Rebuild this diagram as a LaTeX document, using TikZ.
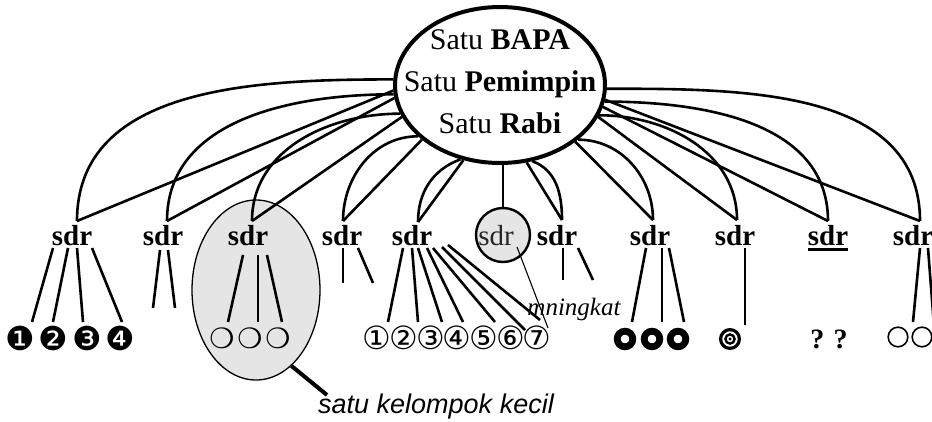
\documentclass[tikz,border=0pt]{standalone}
\usepackage{fontspec}
\setmainfont{Liberation Serif}
\setsansfont{Liberation Sans}
\newfontfamily\symf{DejaVu Sans}
\usetikzlibrary{shapes.geometric}
\begin{document}
\begin{tikzpicture}[x=1pt,y=-1pt,
  conn/.style={line width=2.6pt},
  thinconn/.style={line width=1.1pt},
  sdrb/.style={font=\fontsize{29}{30}\selectfont\bfseries, inner sep=0pt, anchor=base},
  symA/.style={font=\symf\fontsize{33}{33}\selectfont, inner sep=0pt},
  symC/.style={font=\symf\fontsize{32}{32}\selectfont, inner sep=0pt},
  symB/.style={font=\symf\fontsize{28}{28}\selectfont, inner sep=0pt},
  ring/.style={line width=6.8pt},
  ]
\useasboundingbox (0,0) rectangle (932,421);
\fill[white] (0,0) rectangle (932,421);
% group ellipse
\node[ellipse, draw, line width=1.3pt, fill=black!10, minimum width=128, minimum height=180, inner sep=0] (grp) at (256,290) {};
% main ellipse
\node[ellipse, draw, line width=4pt, fill=white, minimum width=210, minimum height=156, inner sep=0] (main) at (500,85) {};
\node[align=center, font=\fontsize{30}{42}\selectfont, inner sep=0] (title) at (500,82) {Satu \textbf{BAPA}\\Satu \textbf{Pemimpin}\\Satu \textbf{Rabi}};
% sdr nodes
\node[sdrb] (s1) at (72,245) {sdr};
\node[sdrb] (s2) at (163,245) {sdr};
\node[sdrb] (s3) at (248,245) {sdr};
\node[sdrb] (s4) at (342,245) {sdr};
\node[sdrb] (s5) at (412,245) {sdr};
\node[sdrb] (s7) at (557,245) {sdr};
\node[sdrb] (s8) at (650,245) {sdr};
\node[sdrb] (s9) at (735,245) {sdr};
\node[sdrb] (s10) at (828,245) {sdr};
\node[sdrb] (s11) at (913,245) {sdr};
\draw[line width=2.8pt] ([yshift=-4.5pt]s10.base west) -- ([yshift=-4.5pt]s10.base east);
% gray circle sdr
\node[circle, draw, line width=2.4pt, fill=black!10, minimum size=54, inner sep=0] (c6) at (503,235) {};
\node[font=\fontsize{29}{30}\selectfont, inner sep=0, anchor=base, text=black!85] (s6) at (496,245) {sdr};
\draw[thinconn] (main.south -| c6.north) -- (c6.north);
\coordinate (mend) at (548,328);
\draw[thinconn] ([shift={(14,12)}]c6.center) -- (mend);
% tops
\coordinate (t1) at (77,221);
\coordinate (t2) at (167,221);
\coordinate (t3) at (252,221);
\coordinate (t4) at (343,221);
\coordinate (t5) at (418,222);
\coordinate (t7) at (562,220);
\coordinate (t8) at (653,220);
\coordinate (t9) at (737,220);
\coordinate (t10) at (828,221);
\coordinate (t11) at (920,221);
% arcs and lines left
\draw[conn] (main.177) to[out=180,in=90] (t1);
\draw[conn] (main.183) -- (t1);
\draw[conn] (main.185) to[out=180,in=90] (t2);
\draw[conn] (main.187) -- (t2);
\draw[conn] (main.196) to[out=180,in=90] (t3);
\draw[conn] (main.198) -- (t3);
\draw[conn] (main.212) to[out=180,in=90] (t4);
\draw[conn] (main.215) -- (t4);
\draw[conn] (main.242) to[out=200,in=90] (t5);
\draw[conn] (main.244) -- (t5);
% right
\draw[conn] (main.293) to[out=-20,in=90] (t7);
\draw[conn] (main.289) -- (t7);
\draw[conn] (main.325) to[out=0,in=90] (t8);
\draw[conn] (main.323) -- (t8);
\draw[conn] (main.343) to[out=0,in=90] (t9);
\draw[conn] (main.342) -- (t9);
\draw[conn] (main.351) to[out=0,in=90] (t10);
\draw[conn] (main.348) -- (t10);
\draw[conn] (main.358) to[out=0,in=90] (t11);
\draw[conn] (main.352) -- (t11);
% children lines
\foreach \a/\b in {{53,248}/{32,322},{68,248}/{53,322},{77,248}/{83,322},{92,248}/{122,322},
  {160,250}/{153,308},{168,250}/{175,308},
  {243,255}/{228,322},{258,255}/{258,322},{267,255}/{282,322},
  {343,248}/{343,283},{358,248}/{373,283},
  {403,248}/{388,322},{412,248}/{418,322},{418,248}/{442,322},{427,248}/{463,322},{433,248}/{495,322},{442,247}/{525,330},{448,245}/{540,320},
  {563,248}/{563,280},{578,248}/{593,280},
  {646,248}/{632,322},{662,248}/{662,322},{669,248}/{684,322},
  {745,248}/{745,325},
  {920,248}/{913,322},{928,248}/{936,352}}
  \draw[conn] (\a) -- (\b);
% symbols
\node[symA] (n1) at (20,338) {❶};
\node[symA] (n2) at (53,338) {❷};
\node[symA] (n3) at (87,338) {❸};
\node[symA] (n4) at (120,338) {❹};
\node[symB] (g1) at (222,338) {❍};
\node[symB] (g2) at (250,338) {❍};
\node[symB] (g3) at (278,338) {❍};
\foreach \i/\c in {0/①,1/②,2/③,3/④,4/⑤,5/⑥,6/⑦}
  \node[symC] (c\i) at ({377+26.7*\i},338) {\c};
\draw[ring] (625,339) circle[radius=7.8];
\draw[ring] (652,339) circle[radius=7.8];
\draw[ring] (678,339) circle[radius=7.8];
\draw[line width=3.2pt] (730,339) circle[radius=9.4];
\draw[line width=2.4pt] (730,339) circle[radius=4.6];
\fill (730,339) circle[radius=1.6];
\node[font=\fontsize{28}{28}\selectfont\bfseries, inner sep=0, anchor=base] (qq) at (829,348) {? ?};
\draw[line width=1.6pt] (898,337) circle[radius=9.8];
\draw[line width=1.6pt] (922,337) circle[radius=9.8];
% labels
\node[font=\itshape\fontsize{25}{25}\selectfont, inner sep=0, anchor=base] (mn) at (574,315) {mningkat};
\node[font=\sffamily\itshape\fontsize{27}{27}\selectfont, inner sep=0, anchor=base west] (kel) at (318,413) {satu kelompok kecil};
\coordinate (kptr) at (327,395);
\draw[line width=4pt] (grp.-65) -- (kptr);
\end{tikzpicture}
\end{document}
